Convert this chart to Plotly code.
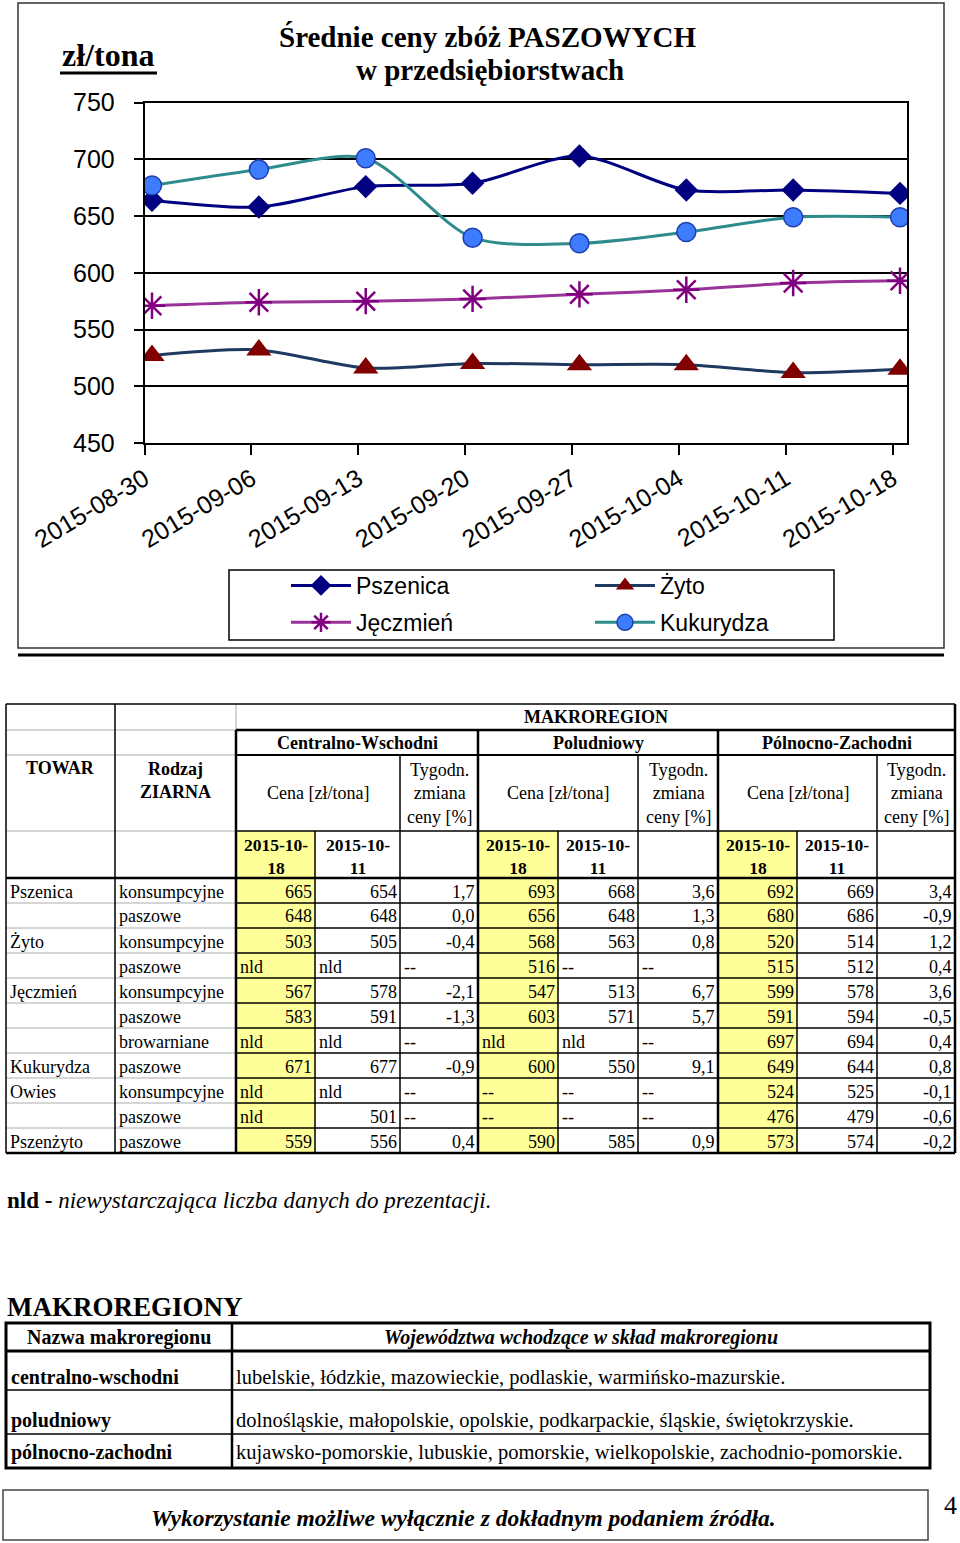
import plotly.graph_objects as go

# ---------------- chart data ----------------
dates = ["2015-08-30", "2015-09-06", "2015-09-13", "2015-09-20",
         "2015-09-27", "2015-10-04", "2015-10-11", "2015-10-18"]
pszenica = [664, 658, 676, 679, 703, 673, 673, 670]
zyto = [527, 532, 516, 520, 519, 519, 512, 515]
jeczmien = [571, 574, 575, 577, 581, 585, 591, 593]
kukurydza = [677, 691, 701, 631, 626, 636, 649, 649]
y_ticks = [450, 500, 550, 600, 650, 700, 750]

# ---------------- table data ----------------
towar = ["Pszenica", "", "Żyto", "", "Jęczmień", "", "", "Kukurydza", "Owies", "", "Pszenżyto"]
rodzaj = ["konsumpcyjne", "paszowe", "konsumpcyjne", "paszowe", "konsumpcyjne", "paszowe",
          "browarniane", "paszowe", "konsumpcyjne", "paszowe", "paszowe"]
cw_18 = ["665", "648", "503", "nld", "567", "583", "nld", "671", "nld", "nld", "559"]
cw_11 = ["654", "648", "505", "nld", "578", "591", "nld", "677", "nld", "501", "556"]
cw_zm = ["1,7", "0,0", "-0,4", "--", "-2,1", "-1,3", "--", "-0,9", "--", "--", "0,4"]
pd_18 = ["693", "656", "568", "516", "547", "603", "nld", "600", "--", "--", "590"]
pd_11 = ["668", "648", "563", "--", "513", "571", "nld", "550", "--", "--", "585"]
pd_zm = ["3,6", "1,3", "0,8", "--", "6,7", "5,7", "--", "9,1", "--", "--", "0,9"]
pz_18 = ["692", "680", "520", "515", "599", "591", "697", "649", "524", "476", "573"]
pz_11 = ["669", "686", "514", "512", "578", "594", "694", "644", "525", "479", "574"]
pz_zm = ["3,4", "-0,9", "1,2", "0,4", "3,6", "-0,5", "0,4", "0,8", "-0,1", "-0,6", "-0,2"]
regions = ["Centralno-Wschodni", "Poludniowy", "Pólnocno-Zachodni"]
week_cur = "2015-10-<br>18"
week_prev = "2015-10-<br>11"

mr_names = ["centralno-wschodni", "poludniowy", "pólnocno-zachodni"]
mr_woj = ["lubelskie, łódzkie, mazowieckie, podlaskie, warmińsko-mazurskie.",
          "dolnośląskie, małopolskie, opolskie, podkarpackie, śląskie, świętokrzyskie.",
          "kujawsko-pomorskie, lubuskie, pomorskie, wielkopolskie, zachodnio-pomorskie."]

# ---------------- helpers ----------------
W, H = 960, 1543
SERIF = "Liberation Serif, Times New Roman, serif"
SANS = "Liberation Sans, Arial, sans-serif"


def X(x):
    return x / W


def Y(y):
    return 1 - y / H


shapes = []
annots = []


def line(x0, y0, x1, y1, w=1.5, color="black"):
    shapes.append(dict(type="line", xref="paper", yref="paper",
                       x0=X(x0), y0=Y(y0), x1=X(x1), y1=Y(y1),
                       line=dict(color=color, width=w)))


def rect(x0, y0, x1, y1, fill=None, w=0, color="black"):
    d = dict(type="rect", xref="paper", yref="paper",
             x0=X(x0), y0=Y(y0), x1=X(x1), y1=Y(y1),
             line=dict(color=color, width=w), layer="below")
    if fill:
        d["fillcolor"] = fill
    shapes.append(d)


def txt(x, y, s, size=18, bold=False, italic=False, xanchor="left",
        family=SERIF, align="left", color="black"):
    if italic:
        s = "<i>" + s + "</i>"
    if bold:
        s = "<b>" + s + "</b>"
    annots.append(dict(x=X(x), y=Y(y), xref="paper", yref="paper", text=s,
                       showarrow=False, xanchor=xanchor, yanchor="middle",
                       align=align, borderpad=0,
                       font=dict(family=family, size=size, color=color)))


# ---------------- chart ----------------
fig = go.Figure()
xi = list(range(len(dates)))

fig.add_trace(go.Scatter(
    x=xi, y=pszenica, name="Pszenica", mode="lines+markers", legend="legend",
    legendgroup="a", line=dict(color="#000080", width=3, shape="spline", smoothing=0.8),
    marker=dict(symbol="diamond", size=18, color="#000080")))
fig.add_trace(go.Scatter(
    x=xi, y=jeczmien, name="Jęczmień", mode="lines+markers", legend="legend",
    legendgroup="b", line=dict(color="#993399", width=3, shape="spline", smoothing=0.8),
    marker=dict(symbol="asterisk-open", size=22, color="#800080",
                line=dict(color="#800080", width=2.5))))
fig.add_trace(go.Scatter(
    x=xi, y=zyto, name="Żyto", mode="lines+markers", legend="legend2",
    legendgroup="c", line=dict(color="#1F3A60", width=3, shape="spline", smoothing=0.8),
    marker=dict(symbol="triangle-up", size=22, color="#800000")))
fig.add_trace(go.Scatter(
    x=xi, y=kukurydza, name="Kukurydza", mode="lines+markers", legend="legend2",
    legendgroup="d", line=dict(color="#2E8B8B", width=3, shape="spline", smoothing=0.8),
    marker=dict(symbol="circle", size=19, color="#3D7CFF",
                line=dict(color="#1F3FAF", width=1.5))))

px_l, px_r, px_t, px_b = 144.5, 907, 102.7, 442.9
pt0, pt_step = 152.0, 106.86
rng_lo = -(pt0 - px_l) / pt_step
rng_hi = len(dates) - 1 + (px_r - (pt0 + pt_step * (len(dates) - 1))) / pt_step

fig.update_layout(
    width=W, height=H, margin=dict(l=0, r=0, t=0, b=0, autoexpand=False),
    paper_bgcolor="white", plot_bgcolor="white",
    xaxis=dict(domain=[X(px_l), X(px_r)], range=[rng_lo, rng_hi], automargin=False,
               tickvals=[i - 0.07 for i in xi], ticktext=dates, tickangle=-31,
               ticks="outside", ticklen=10, tickwidth=1.5, tickcolor="black",
               showline=True, linecolor="black", linewidth=1.5, mirror=True,
               showgrid=False, zeroline=False,
               tickfont=dict(family=SANS, size=25, color="black")),
    yaxis=dict(domain=[Y(px_b), Y(px_t)], range=[450, 750], tickvals=y_ticks,
               automargin=False,
               ticks="outside", ticklen=9, tickwidth=1.5, tickcolor="black",
               showline=True, linecolor="black", linewidth=1.5, mirror=True,
               showgrid=True, gridcolor="black", gridwidth=1.5, zeroline=False,
               ticklabelstandoff=14,
               tickfont=dict(family=SANS, size=25, color="black")),
    legend=dict(x=X(286), y=Y(564), xanchor="left", yanchor="top",
                orientation="v", itemwidth=60, tracegroupgap=4,
                bgcolor="rgba(0,0,0,0)",
                font=dict(family=SANS, size=23, color="black")),
    legend2=dict(x=X(590), y=Y(564), xanchor="left", yanchor="top",
                 orientation="v", itemwidth=60, tracegroupgap=4,
                 bgcolor="rgba(0,0,0,0)",
                 font=dict(family=SANS, size=23, color="black")),
    showlegend=True,
)

# chart frame, legend box, titles
rect(18, 3, 944, 648, w=1.5, color="#333333")
line(18, 655, 944, 655, w=3)
rect(229, 570, 834, 640, w=1.5, color="black")
txt(487, 37, "Średnie ceny zbóż PASZOWYCH", size=29, bold=True, xanchor="center")
txt(490, 70, "w przedsiębiorstwach", size=29, bold=True, xanchor="center")
txt(108, 55, "zł/tona", size=32, bold=True, xanchor="center")
line(60, 73, 157, 73, w=3)

# ---------------- main table ----------------
C = [6, 115, 236, 315, 400, 478, 558, 638, 718, 797, 877, 955]
HR = [704, 730, 755, 831, 878]
RH = 25
n = len(rodzaj)
R = [878 + RH * k for k in range(n + 1)]
GRAY = "#C8C8C8"

# yellow columns
for bi in range(3):
    rect(C[2 + 3 * bi], 831, C[3 + 3 * bi], R[-1], fill="#FFFF99")

# gray header lines in first two columns
for yy in HR[1:4]:
    line(C[0], yy, C[2], yy, w=1.5, color=GRAY)
line(C[2], 704, C[2], 730, w=1.5, color=GRAY)
# data row lines
for yy in R[1:-1]:
    line(C[0], yy, C[2], yy, w=1.5, color=GRAY)
    line(C[2], yy, C[-1], yy, w=1.5, color="black")
# inner verticals in region blocks
for bi in range(3):
    x0 = C[2 + 3 * bi]
    line(C[3 + 3 * bi], 831, C[3 + 3 * bi], R[-1], w=1.5)
    line(C[4 + 3 * bi], 755, C[4 + 3 * bi], R[-1], w=1.5)
    line(x0, 755, C[5 + 3 * bi], 755, w=2)
    line(x0, 831, C[5 + 3 * bi], 831, w=1.5)
# outer / thick lines
line(C[0], 704, C[-1], 704, w=1.5)
line(C[2], 730, C[-1], 730, w=2.5)
line(C[0], 878, C[-1], 878, w=2.5)
line(C[0], R[-1], C[-1], R[-1], w=2.5)
line(C[0], 704, C[0], R[-1], w=1.5)
line(C[1], 704, C[1], R[-1], w=1.5)
for xx in (C[2], C[5], C[8]):
    line(xx, 730, xx, R[-1], w=2.5)
line(C[-1], 704, C[-1], R[-1], w=2.5)

# header texts
txt((C[2] + C[-1]) / 2, 717, "MAKROREGION", size=18, bold=True, xanchor="center")
for bi, name in enumerate(regions):
    txt((C[2 + 3 * bi] + C[5 + 3 * bi]) / 2, 743, name, size=18, bold=True, xanchor="center")
    txt((C[2 + 3 * bi] + C[4 + 3 * bi]) / 2, 793, "Cena [zł/tona]", size=18, xanchor="center")
    txt((C[4 + 3 * bi] + C[5 + 3 * bi]) / 2, 793, "Tygodn.<br>zmiana<br>ceny [%]",
        size=18, xanchor="center", align="center")
    txt((C[2 + 3 * bi] + C[3 + 3 * bi]) / 2, 856, week_cur, size=17.5, bold=True,
        xanchor="center", align="center")
    txt((C[3 + 3 * bi] + C[4 + 3 * bi]) / 2, 856, week_prev, size=17.5, bold=True,
        xanchor="center", align="center")
txt((C[0] + C[1]) / 2, 768, "TOWAR", size=18, bold=True, xanchor="center")
txt((C[1] + C[2]) / 2, 780, "Rodzaj<br>ZIARNA", size=18, bold=True, xanchor="center",
    align="center")

# data texts
cols = [cw_18, cw_11, cw_zm, pd_18, pd_11, pd_zm, pz_18, pz_11, pz_zm]
for k in range(n):
    yc = (R[k] + R[k + 1]) / 2 + 1
    if towar[k]:
        txt(C[0] + 3, yc, towar[k], size=18)
    txt(C[1] + 3, yc, rodzaj[k], size=18)
    for ci, col in enumerate(cols):
        v = col[k]
        xl, xr = C[2 + ci], C[3 + ci]
        if v in ("nld", "--"):
            txt(xl + 3, yc, v, size=18)
        else:
            txt(xr - 2, yc, v, size=18, xanchor="right")

# footnote
txt(6, 1200, "<b>nld - </b><i>niewystarczająca liczba danych do prezentacji.</i>", size=23)

# ---------------- makroregiony table ----------------
txt(6, 1307, "MAKROREGIONY", size=27, bold=True)
MC = [6, 232, 930]
MR = [1323, 1351, 1390, 1434, 1468]
line(MC[0], MR[2], MC[2], MR[2], w=1.5)
line(MC[0], MR[3], MC[2], MR[3], w=1.5)
line(MC[0], MR[1], MC[2], MR[1], w=3)
line(MC[1], MR[0], MC[1], MR[-1], w=2.5)
rect(MC[0], MR[0], MC[2], MR[-1], w=3)
txt((MC[0] + MC[1]) / 2, 1337, "Nazwa makroregionu", size=20, bold=True, xanchor="center")
txt((MC[1] + MC[2]) / 2, 1337, "Województwa wchodzące w skład makroregionu", size=20,
    bold=True, italic=True, xanchor="center")
for k, yy in enumerate([1377, 1420, 1452]):
    txt(MC[0] + 4, yy, mr_names[k], size=20, bold=True)
    txt(MC[1] + 3, yy, mr_woj[k], size=20.5)

# footer
rect(3, 1490, 928, 1540, w=1.5, color="#444444")
txt(463, 1518, "Wykorzystanie możliwe wyłącznie z dokładnym podaniem źródła.", size=23.5,
    bold=True, italic=True, xanchor="center")
txt(950, 1505, "4", size=26, xanchor="center")

fig.update_layout(shapes=shapes, annotations=annots)
fig.write_html("out.html", config={"displayModeBar": False},
               post_script="document.body.style.margin='0';"
                           "document.body.style.overflow='hidden';")
